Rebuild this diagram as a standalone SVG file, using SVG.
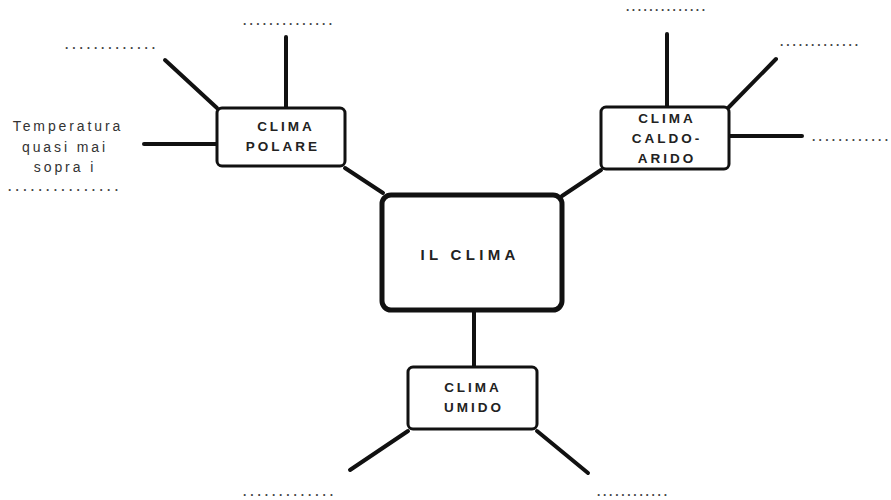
<svg xmlns="http://www.w3.org/2000/svg" width="891" height="500" viewBox="0 0 891 500">
<style>
.box{fill:#fff;stroke:#111;stroke-width:3}
.main{fill:#fff;stroke:#111;stroke-width:5}
.lbl{font-family:"Liberation Sans",Arial,sans-serif;font-weight:bold;font-size:13.5px;letter-spacing:3px;fill:#222;text-anchor:middle}
.big{font-family:"Liberation Sans",Arial,sans-serif;font-weight:bold;font-size:15px;letter-spacing:4.3px;fill:#222;text-anchor:middle}
.ann{font-family:"Liberation Sans",Arial,sans-serif;font-size:14px;letter-spacing:2.9px;fill:#333;text-anchor:middle}
.dots{font-family:"Liberation Sans",Arial,sans-serif;font-size:12px;font-weight:bold;fill:#444}
#connectors line{stroke:#111;stroke-width:4;stroke-linecap:round}
</style>
<rect width="891" height="500" fill="#fff"/>
<g id="connectors">
<line x1="286" y1="37" x2="286" y2="108"/>
<line x1="165" y1="60" x2="217" y2="108"/>
<line x1="144" y1="144" x2="217" y2="144"/>
<line x1="345" y1="168" x2="383" y2="193"/>
<line x1="667" y1="34" x2="667" y2="107"/>
<line x1="729" y1="107" x2="776" y2="59"/>
<line x1="729" y1="136" x2="802" y2="136"/>
<line x1="601" y1="170" x2="562" y2="196"/>
<line x1="474" y1="310" x2="474" y2="367"/>
<line x1="408" y1="431" x2="350" y2="470"/>
<line x1="537" y1="431" x2="588" y2="473"/>
</g>
<g id="il-clima">
<rect class="main" x="382" y="195" width="180" height="115" rx="9"/>
<text class="big" x="470" y="260">IL CLIMA</text>
</g>
<g id="clima-polare">
<rect class="box" x="217" y="108" width="128" height="58" rx="5"/>
<text class="lbl" x="286" y="131">CLIMA</text>
<text class="lbl" x="283" y="151">POLARE</text>
</g>
<g id="clima-caldo-arido">
<rect class="box" x="601" y="107" width="128" height="62" rx="5"/>
<text class="lbl" x="667" y="123">CLIMA</text>
<text class="lbl" x="667" y="143">CALDO-</text>
<text class="lbl" x="667" y="163">ARIDO</text>
</g>
<g id="clima-umido">
<rect class="box" x="408" y="367" width="129" height="62" rx="5"/>
<text class="lbl" x="473" y="392">CLIMA</text>
<text class="lbl" x="474" y="412">UMIDO</text>
</g>
<g id="annotations">
<text class="ann" x="68" y="131">Temperatura</text>
<text class="ann" x="65" y="152">quasi mai</text>
<text class="ann" x="65" y="172">sopra i</text>
<text class="dots" x="8" y="191" textLength="110" lengthAdjust="spacing">...............</text>
<text class="dots" x="65" y="49" textLength="90" lengthAdjust="spacing">.............</text>
<text class="dots" x="243" y="25" textLength="89" lengthAdjust="spacing">..............</text>
<text class="dots" x="626" y="11" textLength="79" lengthAdjust="spacing">..............</text>
<text class="dots" x="780" y="46" textLength="78" lengthAdjust="spacing">.............</text>
<text class="dots" x="812" y="141" textLength="76" lengthAdjust="spacing">............</text>
<text class="dots" x="243" y="496" textLength="90" lengthAdjust="spacing">.............</text>
<text class="dots" x="597" y="496" textLength="70" lengthAdjust="spacing">............</text>
</g>
</svg>
